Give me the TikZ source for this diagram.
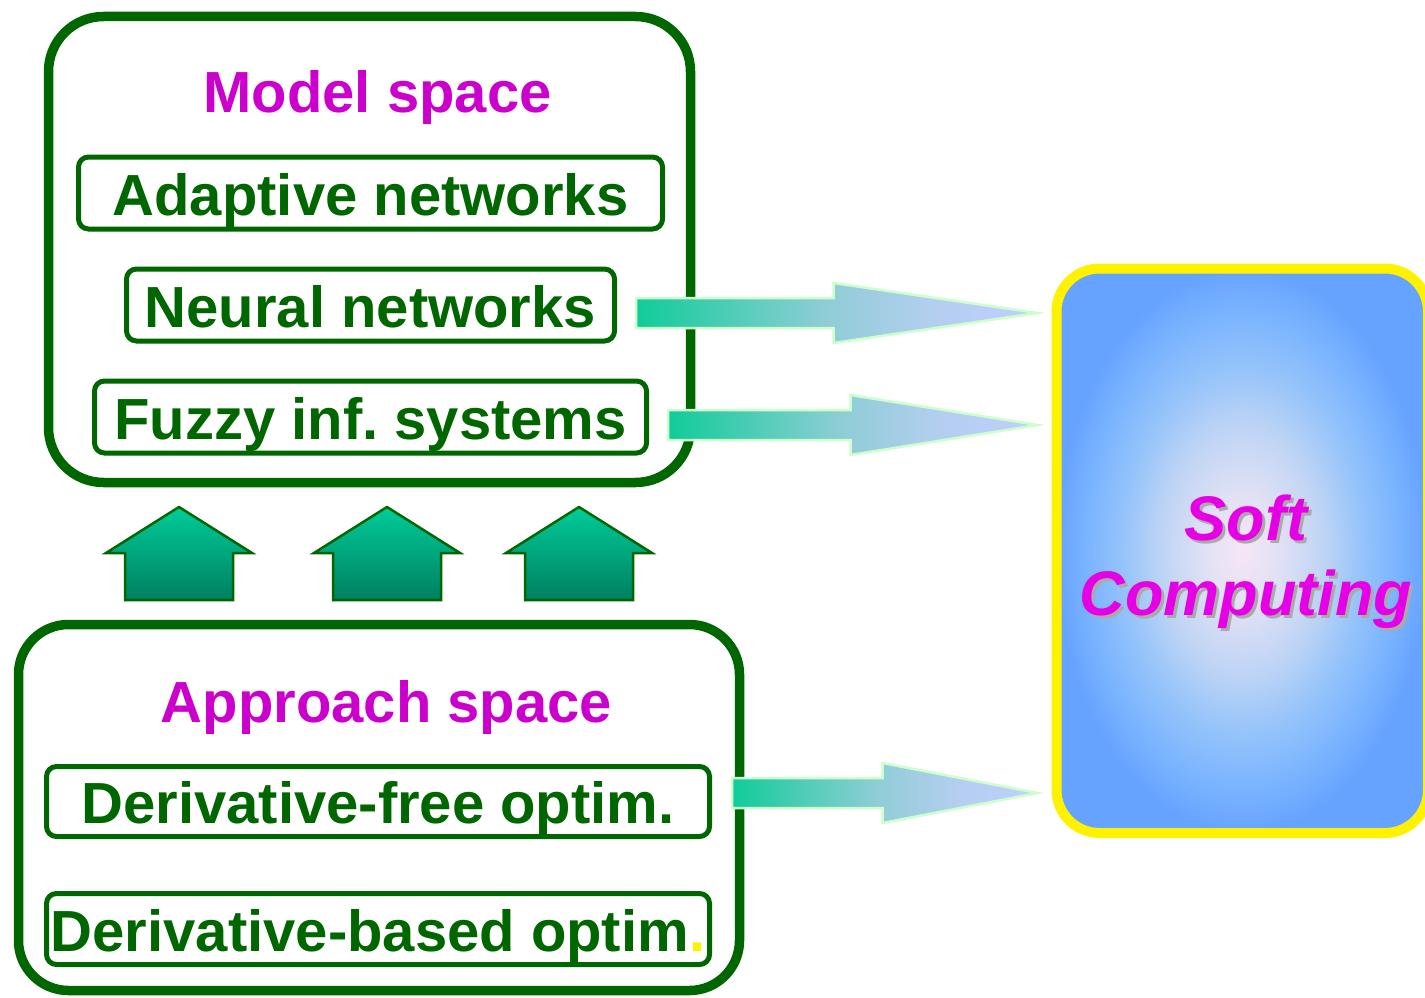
\documentclass[tikz,border=0pt]{standalone}
\usepackage{fontspec}
\setmainfont{Liberation Sans}
\usetikzlibrary{calc}
\frenchspacing

\definecolor{dkgreen}{RGB}{0,102,0}
\definecolor{titlemag}{RGB}{204,0,204}
\definecolor{softmag}{RGB}{230,0,230}
\definecolor{softshadow}{RGB}{170,170,170}
\definecolor{arrowteal}{RGB}{16,204,153}
\definecolor{arrowmid}{RGB}{145,205,215}
\definecolor{arrowpale}{RGB}{180,206,240}
\definecolor{arrowlav}{RGB}{192,208,255}
\definecolor{arrowrim}{RGB}{204,255,204}
\definecolor{uptop}{RGB}{0,204,153}
\definecolor{upbot}{RGB}{0,128,96}
\definecolor{scblue}{RGB}{102,163,255}
\definecolor{scblueb}{RGB}{122,180,255}
\definecolor{scbluec}{RGB}{150,196,250}
\definecolor{scblued}{RGB}{190,212,245}
\definecolor{scbluee}{RGB}{225,225,245}
\definecolor{scpink}{RGB}{246,230,245}

% soft glow for the Soft Computing panel
\pgfdeclareradialshading{scglow}{\pgfpoint{0bp}{0bp}}{%
  color(0bp)=(scpink); color(5bp)=(scbluee); color(11bp)=(scblued);
  color(16bp)=(scbluec); color(21bp)=(scblueb); color(25bp)=(scblue);
  color(50bp)=(scblue)}

% left-to-right fade of the fat arrows
\pgfdeclarehorizontalshading{arrowfade}{100bp}{%
  color(0bp)=(arrowteal); color(25bp)=(arrowteal); color(49bp)=(arrowmid);
  color(62bp)=(arrowpale); color(75bp)=(arrowlav); color(100bp)=(arrowlav)}

\newcommand\itemfnt{\fontsize{58}{62}\selectfont\bfseries}
\newcommand\softfnt{\fontsize{63}{66}\selectfont\bfseries\itshape}

% fat horizontal arrow: #1 tail, #2 tip, #3 head length
\newcommand\fatarrow[3]{%
  \path[fatarrowstyle] let \p1=(#1), \p2=(#2) in
    (\x1,\y1+15pt) -- (\x2-#3pt,\y1+15pt) -- (\x2-#3pt,\y1+30pt) --
    (\x2,\y2) -- (\x2-#3pt,\y1-30pt) -- (\x2-#3pt,\y1-15pt) --
    (\x1,\y1-15pt) -- cycle;}

\tikzset{
  bigbox/.style={draw=dkgreen, line width=9.5pt, rounded corners=55pt,
    inner sep=0pt},
  itembox/.style={draw=dkgreen, line width=5pt, rounded corners=10pt,
    inner sep=0pt, minimum height=72pt, text height=44pt, text depth=0pt,
    font=\itemfnt, text=dkgreen},
  spacetitle/.style={font=\itemfnt, text=titlemag, anchor=base, inner sep=0pt},
  softbox/.style={draw=yellow, line width=10pt, rounded corners=43pt,
    shade, shading=scglow, inner sep=0pt},
  softtext/.style={font=\softfnt, text=softmag, anchor=base, inner sep=0pt},
  softtextshadow/.style={softtext, text=softshadow},
  fatarrowstyle/.style={draw=arrowrim, line width=2.5pt,
    shade, shading=arrowfade},
  uparrowstyle/.style={draw=dkgreen, line width=2.5pt,
    top color=uptop, bottom color=upbot},
  uparrow/.pic={
    \path[uparrowstyle] (0,0) -- (73,46) -- (54,46) -- (54,93) --
      (-54,93) -- (-54,46) -- (-73,46) -- cycle;}
}

\begin{document}
\begin{tikzpicture}[x=1pt,y=-1pt]
\useasboundingbox (0,0) rectangle (1425,998);

% model space
\node[bigbox, minimum width=642pt, minimum height=466pt] (model) at (369.5,249.5) {};
\node[spacetitle] (modeltitle) at (377.5,113) {Model space};
\node[itembox, minimum width=584pt] (an) at (370.5,193) {Adaptive networks};
\node[itembox, minimum width=488pt] (nn) at (370.5,305) {Neural networks};
\node[itembox, minimum width=552pt] (fz) at (370.5,417) {Fuzzy inf. systems};

% approach space
\node[bigbox, rounded corners=50pt, minimum width=721pt, minimum height=366pt] (approach) at (379,807.5) {};
\node[spacetitle] (approachtitle) at (386.5,722) {Approach space};
\node[itembox, minimum width=663pt, minimum height=70pt] (df) at (378,801.5) {Derivative-free optim.};
\node[itembox, minimum width=663pt, minimum height=71pt] (db) at (378,929) {Derivative-based optim{\color{yellow}.}};

% upward arrows between the two spaces
\pic at (179,507) {uparrow};
\pic at (387,507) {uparrow};
\pic at (579,507) {uparrow};

% soft computing panel
\node[softbox, minimum width=371.5pt, minimum height=564.5pt] (sc) at (1242.25,550.75) {};
\node[softtextshadow] at (1249,543) {Soft};
\node[softtext] (soft) at (1246,540) {Soft};
\node[softtextshadow] at (1249,618) {Computing};
\node[softtext] (computing) at (1246,615) {Computing};

% arrows into the panel
\coordinate (t1) at ($(nn.east)+(19,8)$);
\coordinate (t2) at ($(fz.east)+(19,8)$);
\coordinate (t3) at ($(df.east)+(20,-8.5)$);
\coordinate (e1) at ($(t1 -| sc.west)+(-14,0)$);
\coordinate (e2) at ($(t2 -| sc.west)+(-14,0)$);
\coordinate (e3) at ($(t3 -| sc.west)+(-14,0)$);
\fatarrow{t1}{e1}{204}
\fatarrow{t2}{e2}{187}
\fatarrow{t3}{e3}{155}
\end{tikzpicture}
\end{document}
